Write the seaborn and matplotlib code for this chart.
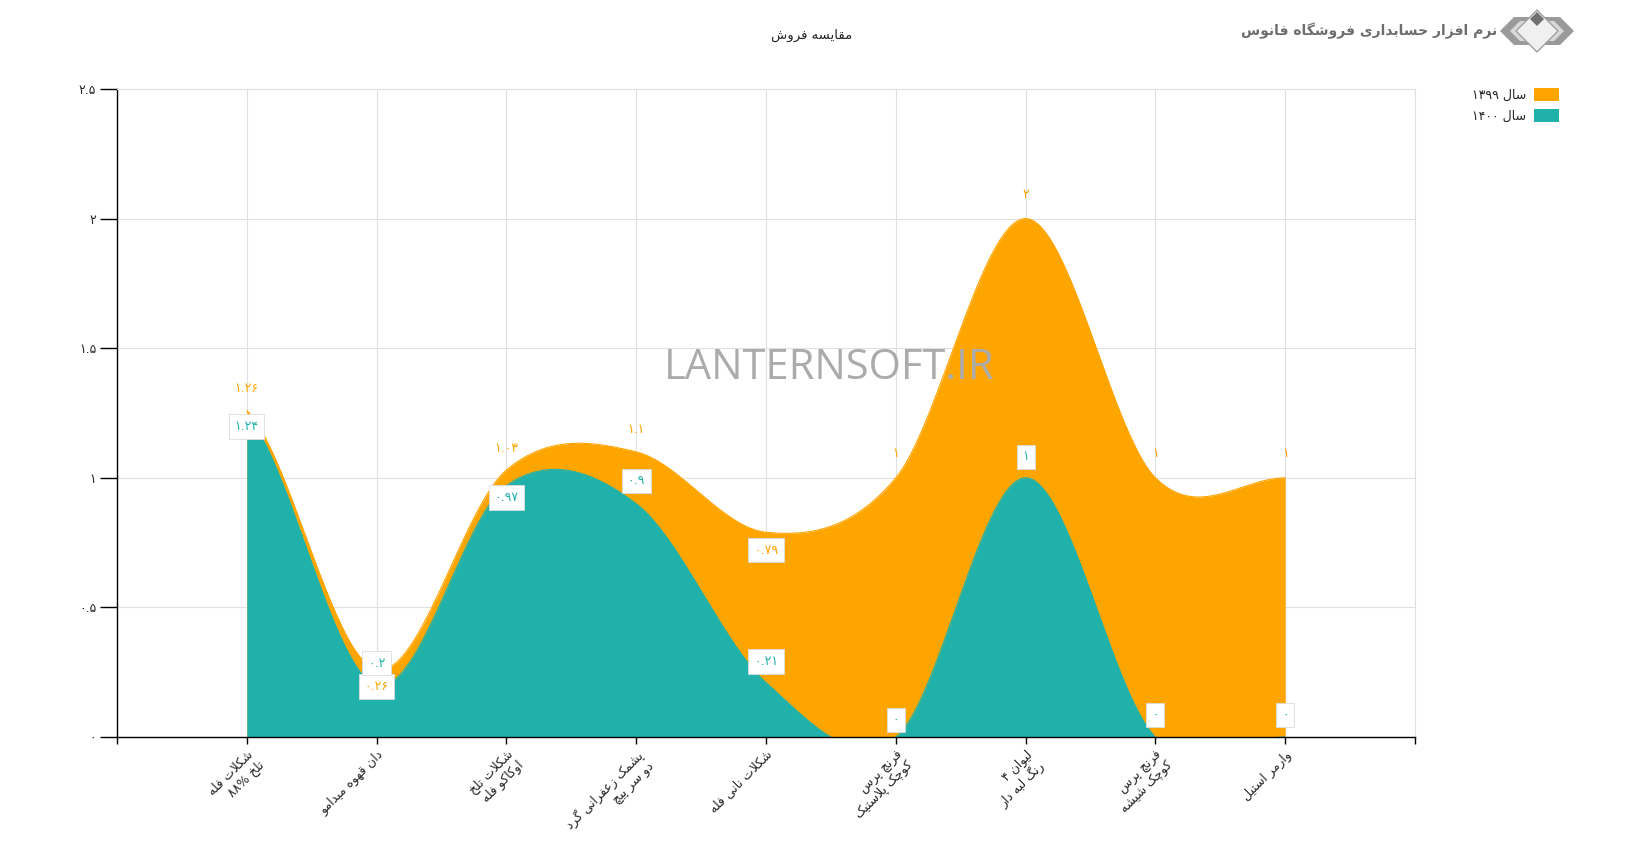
import numpy as np
import matplotlib
matplotlib.use("Agg")
import matplotlib.pyplot as plt
import seaborn as sns
from matplotlib.patches import Patch, Polygon

# ---------------- data ----------------
categories = [
    "شکلات فله\nتلخ ۸۸%",
    "دان قهوه میدامو",
    "شکلات تلخ\nاوکاکو فله",
    "پشمک زعفرانی گرد\nدو سر پیچ",
    "شکلات نانی فله",
    "فرنچ پرس\nکوچک پلاستیک",
    "لیوان ۴\nرنگ لبه دار",
    "فرنچ پرس\nکوچک شیشه",
    "وارمر استیل",
]
sales_1399 = [1.26, 0.26, 1.03, 1.1, 0.79, 1, 2, 1, 1]
sales_1400 = [1.24, 0.2, 0.97, 0.9, 0.21, 0, 1, 0, 0]
series_names = ["سال ۱۳۹۹", "سال ۱۴۰۰"]
title_text = "مقایسه فروش"
logo_text = "نرم افزار حسابداری فروشگاه فانوس"
watermark = "LANTERNSOFT.IR"
y_ticks = [0, 0.5, 1, 1.5, 2, 2.5]

# label placement (pixel offsets, style only)
off_1399 = [22, -17, 22, 22, -18, 24, 24, 24, 24]
box_1399 = [False, True, False, False, True, False, False, False, False]
off_1400 = [-11, 22, -12, 23, 21, 17, 21, 22, 22]
box_1400 = [True, True, True, True, True, True, True, True, True]

ORANGE = "#FFA500"
TEAL = "#20B2AA"

# ---------------- Persian shaping helpers ----------------
FORMS = {
    '\u0627': ('\uFE8D', '\uFE8E', None, None),
    '\u0628': ('\uFE8F', '\uFE90', '\uFE91', '\uFE92'),
    '\u062A': ('\uFE95', '\uFE96', '\uFE97', '\uFE98'),
    '\u062B': ('\uFE99', '\uFE9A', '\uFE9B', '\uFE9C'),
    '\u062C': ('\uFE9D', '\uFE9E', '\uFE9F', '\uFEA0'),
    '\u062D': ('\uFEA1', '\uFEA2', '\uFEA3', '\uFEA4'),
    '\u062E': ('\uFEA5', '\uFEA6', '\uFEA7', '\uFEA8'),
    '\u062F': ('\uFEA9', '\uFEAA', None, None),
    '\u0630': ('\uFEAB', '\uFEAC', None, None),
    '\u0631': ('\uFEAD', '\uFEAE', None, None),
    '\u0632': ('\uFEAF', '\uFEB0', None, None),
    '\u0633': ('\uFEB1', '\uFEB2', '\uFEB3', '\uFEB4'),
    '\u0634': ('\uFEB5', '\uFEB6', '\uFEB7', '\uFEB8'),
    '\u0635': ('\uFEB9', '\uFEBA', '\uFEBB', '\uFEBC'),
    '\u0636': ('\uFEBD', '\uFEBE', '\uFEBF', '\uFEC0'),
    '\u0637': ('\uFEC1', '\uFEC2', '\uFEC3', '\uFEC4'),
    '\u0638': ('\uFEC5', '\uFEC6', '\uFEC7', '\uFEC8'),
    '\u0639': ('\uFEC9', '\uFECA', '\uFECB', '\uFECC'),
    '\u063A': ('\uFECD', '\uFECE', '\uFECF', '\uFED0'),
    '\u0641': ('\uFED1', '\uFED2', '\uFED3', '\uFED4'),
    '\u0642': ('\uFED5', '\uFED6', '\uFED7', '\uFED8'),
    '\u0644': ('\uFEDD', '\uFEDE', '\uFEDF', '\uFEE0'),
    '\u0645': ('\uFEE1', '\uFEE2', '\uFEE3', '\uFEE4'),
    '\u0646': ('\uFEE5', '\uFEE6', '\uFEE7', '\uFEE8'),
    '\u0647': ('\uFEE9', '\uFEEA', '\uFEEB', '\uFEEC'),
    '\u0648': ('\uFEED', '\uFEEE', None, None),
    '\u067E': ('\uFB56', '\uFB57', '\uFB58', '\uFB59'),
    '\u0686': ('\uFB7A', '\uFB7B', '\uFB7C', '\uFB7D'),
    '\u0698': ('\uFB8A', '\uFB8B', None, None),
    '\u06A9': ('\uFB8E', '\uFB8F', '\uFB90', '\uFB91'),
    '\u06AF': ('\uFB92', '\uFB93', '\uFB94', '\uFB95'),
    '\u06CC': ('\uFBFC', '\uFBFD', '\uFBFE', '\uFBFF'),
}


def _shape_line(s):
    toks = []
    i = 0
    while i < len(s):
        if s[i] == '\u0644' and i + 1 < len(s) and s[i + 1] == '\u0627':
            toks.append('LA')
            i += 2
        else:
            toks.append(s[i])
            i += 1

    def joins(t):
        return t == 'LA' or t in FORMS

    def dual(t):
        return t != 'LA' and t in FORMS and FORMS[t][2] is not None

    res = []
    for k, t in enumerate(toks):
        prev = toks[k - 1] if k > 0 else None
        nxt = toks[k + 1] if k + 1 < len(toks) else None
        jp = prev is not None and dual(prev) and joins(t)
        jn = dual(t) and nxt is not None and joins(nxt)
        if t == 'LA':
            res.append('\uFEFC' if jp else '\uFEFB')
        elif t in FORMS:
            iso, fin, ini, med = FORMS[t]
            res.append(med if (jp and jn) else fin if jp else ini if jn else iso)
        else:
            res.append(t)
    # simple bidi: reverse, keeping number runs left-to-right
    runs = []
    for ch in res:
        ltr = ch.isdigit() or ch in '.%' or (ch.isascii() and ch.isalnum())
        if runs and runs[-1][0] == ltr:
            runs[-1][1].append(ch)
        else:
            runs.append([ltr, [ch]])
    out = []
    for ltr, chs in reversed(runs):
        out.append(''.join(chs) if ltr else ''.join(reversed(chs)))
    return ''.join(out)


def fa(s):
    return '\n'.join(_shape_line(line) for line in s.split('\n'))


def fa_num(v):
    s = '{:g}'.format(v)
    return s.translate(str.maketrans('0123456789', '۰۱۲۳۴۵۶۷۸۹'))


def catmull(ys, n=80):
    ys = np.asarray(ys, float)
    m = len(ys)
    p = np.concatenate([[ys[0]], ys, [ys[-1]]])
    xs_out, ys_out = [], []
    for i in range(m - 1):
        p0, p1, p2, p3 = p[i], p[i + 1], p[i + 2], p[i + 3]
        m1 = (p2 - p0) / 2
        m2 = (p3 - p1) / 2
        t = np.linspace(0, 1, n, endpoint=(i == m - 2))
        h00 = 2 * t**3 - 3 * t**2 + 1
        h10 = t**3 - 2 * t**2 + t
        h01 = -2 * t**3 + 3 * t**2
        h11 = t**3 - t**2
        xs_out.append(i + t)
        ys_out.append(h00 * p1 + h10 * m1 + h01 * p2 + h11 * m2)
    return np.concatenate(xs_out), np.concatenate(ys_out)


# ---------------- figure ----------------
sns.set_theme(style="white")
plt.rcParams['font.family'] = ['DejaVu Sans']

W, H = 1625, 863
fig = plt.figure(figsize=(W / 100, H / 100), dpi=100)
ax = fig.add_axes([117 / W, 1 - 737 / H, (1415 - 117) / W, (737 - 89) / H])

for vals, col in [(sales_1399, ORANGE), (sales_1400, TEAL)]:
    xs, ys = catmull(vals)
    ax.fill_between(xs, 0, ys, color=col, lw=0, zorder=2)
    sns.lineplot(x=xs, y=ys, color=col, lw=0.8, ax=ax, zorder=2.1, sort=False)

ax.set_xlim(-1, len(categories))
ax.set_ylim(0, 2.5)
ax.set_axisbelow(True)

xt = list(range(-1, len(categories) + 1))
ax.set_xticks(xt)
ax.set_xticklabels([''] + [fa(c) for c in categories] + [''],
                   rotation=45, ha='right', va='top', rotation_mode='anchor',
                   fontsize=9, multialignment='right')
ax.set_yticks(y_ticks)
ax.set_yticklabels([fa_num(v) for v in y_ticks], fontsize=9)
ax.tick_params(axis='y', length=12, width=1, color='black', pad=3, left=True)
ax.tick_params(axis='x', length=5, width=1, color='black', pad=3, bottom=True)
ax.grid(True, color='#e0e0e0', lw=0.8)
for side in ['top', 'right']:
    ax.spines[side].set_color('#e0e0e0')
    ax.spines[side].set_linewidth(0.8)
for side in ['left', 'bottom']:
    ax.spines[side].set_color('black')
    ax.spines[side].set_linewidth(1)
ax.set_xlabel('')
ax.set_ylabel('')

# data labels
for vals, offs, boxes, col in [(sales_1399, off_1399, box_1399, ORANGE),
                               (sales_1400, off_1400, box_1400, TEAL)]:
    for i, v in enumerate(vals):
        bbox = dict(boxstyle='square,pad=0.45', fc='white', ec='#dddddd', lw=0.6) if boxes[i] else None
        ax.annotate(fa_num(v), (i, v), xytext=(0, offs[i]), textcoords='offset pixels',
                    ha='center', va='center', fontsize=9, color=col, bbox=bbox,
                    zorder=5, annotation_clip=False)

# watermark
fig.text(829 / W, 1 - 368 / H, watermark, fontsize=30, color='#ababab',
         ha='center', va='center', family=['Open Sans', 'DejaVu Sans'], zorder=10)

# title
fig.text(812 / W, 1 - 35 / H, fa(title_text), fontsize=9.5, color='#222222', ha='center', va='center')

# logo
fig.text(1497 / W, 1 - 31 / H, fa(logo_text), fontsize=10, color='#6e6e6e',
         ha='right', va='center', fontweight='bold')
lax = fig.add_axes([1500 / W, 1 - 53 / H, 74 / W, 45 / H])
lax.set_xlim(0, 74)
lax.set_ylim(0, 45)
lax.axis('off')
lax.add_patch(Polygon([[0, 22], [14, 8], [60, 8], [74, 22], [60, 36], [14, 36]], closed=True,
                      fc='#9a9a9a', ec='none'))
lax.add_patch(Polygon([[10, 22], [20, 12], [54, 12], [64, 22], [54, 32], [20, 32]], closed=True,
                      fc='#d8d8d8', ec='none'))
lax.add_patch(Polygon([[37, 43], [58, 22], [37, 1], [16, 22]], closed=True, fc='#f0f0f0', ec='#a0a0a0', lw=1))
lax.add_patch(Polygon([[37, 41], [44, 34], [37, 27], [30, 34]], closed=True, fc='#707070', ec='none'))

# legend
handles = [Patch(fc=ORANGE, ec='none'), Patch(fc=TEAL, ec='none')]
fig.legend(handles, [fa(s) for s in series_names], loc='upper right',
           bbox_to_anchor=(1565 / W, 1 - 82 / H), frameon=False, markerfirst=False,
           fontsize=9, handlelength=2.0, handleheight=1.2, labelspacing=0.6,
           handletextpad=0.6, borderpad=0)

fig.savefig('out.png', dpi=100)
